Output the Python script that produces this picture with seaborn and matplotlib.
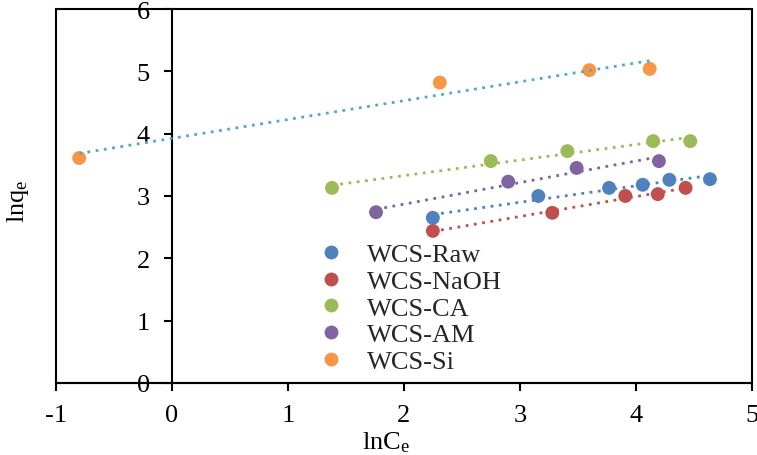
import numpy as np
import pandas as pd
import matplotlib
matplotlib.use("Agg")
import matplotlib.pyplot as plt
import seaborn as sns
from matplotlib.patches import Rectangle
from matplotlib.lines import Line2D

series_names = ["WCS-Raw", "WCS-NaOH", "WCS-CA", "WCS-AM", "WCS-Si"]
raw_x = [2.25, 3.16, 3.77, 4.06, 4.29, 4.64]
raw_y = [2.65, 3.00, 3.13, 3.18, 3.26, 3.27]
naoh_x = [2.25, 3.28, 3.91, 4.19, 4.43]
naoh_y = [2.44, 2.73, 3.00, 3.03, 3.13]
ca_x = [1.38, 2.75, 3.41, 4.15, 4.47]
ca_y = [3.13, 3.56, 3.72, 3.88, 3.88]
am_x = [1.76, 2.90, 3.49, 4.20]
am_y = [2.74, 3.23, 3.45, 3.56]
si_x = [-0.80, 2.31, 3.60, 4.12]
si_y = [3.61, 4.82, 5.02, 5.04]

point_colors = ["#4F81BD", "#C0504D", "#9BBB59", "#8064A2", "#F79646"]
trend_colors = ["#4F81BD", "#C0504D", "#9BBB59", "#8064A2", "#4BACC6"]
x_ticks = [-1, 0, 1, 2, 3, 4, 5]
y_ticks = [0, 1, 2, 3, 4, 5, 6]

xs = [raw_x, naoh_x, ca_x, am_x, si_x]
ys = [raw_y, naoh_y, ca_y, am_y, si_y]
df = pd.concat([pd.DataFrame({"x": x, "y": y, "series": n})
                for x, y, n in zip(xs, ys, series_names)], ignore_index=True)

sns.set_theme(style="white")
plt.rcParams["font.family"] = ["Liberation Serif", "DejaVu Serif"]
plt.rcParams["mathtext.fontset"] = "custom"
plt.rcParams["mathtext.rm"] = "Liberation Serif"

FS = 19

fig = plt.figure(figsize=(7.57, 4.56), dpi=100)
ax = fig.add_axes([0.074, 0.158, 0.919, 0.820])

sns.scatterplot(data=df, x="x", y="y", hue="series", hue_order=series_names,
                palette=point_colors, s=100, edgecolor="none", ax=ax,
                legend=False, zorder=2)
for x, y, c in zip(xs, ys, trend_colors):
    sns.regplot(x=x, y=y, scatter=False, ci=None, truncate=True, ax=ax,
                color=c, line_kws=dict(lw=2.0, linestyle=(0, (1, 2.0)), zorder=3))

ax.set_xlim(-1, 5)
ax.set_ylim(0, 6)
ax.set_xticks(x_ticks)
ax.set_xticklabels([str(t) for t in x_ticks])
ax.set_yticks(y_ticks)
ax.set_yticklabels([str(t) for t in y_ticks])

ax.spines["left"].set_position(("data", 0))
for s in ["top", "right"]:
    ax.spines[s].set_visible(False)
for s in ["left", "bottom"]:
    ax.spines[s].set_linewidth(1.5)
    ax.spines[s].set_color("black")
ax.add_patch(Rectangle((0, 0), 1, 1, transform=ax.transAxes, fill=False,
                       lw=1.5, edgecolor="black", clip_on=False, zorder=5))

ax.tick_params(axis="both", which="major", direction="out", length=6, width=1.5,
               color="black", labelsize=FS, labelcolor="black")
ax.tick_params(axis="x", bottom=True, pad=9)
ax.tick_params(axis="y", left=True, pad=10)

ax.set_xlabel(r"ln$\mathregular{C_e}$", fontsize=FS, color="black")
ax.set_ylabel(r"ln$\mathregular{q_e}$", fontsize=FS, color="black")
ax.xaxis.set_label_coords(0.475, -0.125)
ax.yaxis.set_label_coords(-0.036, 0.49)

handles = [Line2D([], [], marker="o", linestyle="none", markersize=10,
                  markerfacecolor=c, markeredgecolor="none") for c in point_colors]
ax.legend(handles, series_names, loc="upper left", bbox_to_anchor=(0.358, 0.41),
          frameon=False, fontsize=FS, labelspacing=0.12, handletextpad=0.85,
          handlelength=1.0, borderpad=0.0)

fig.savefig("out.png", dpi=100)
